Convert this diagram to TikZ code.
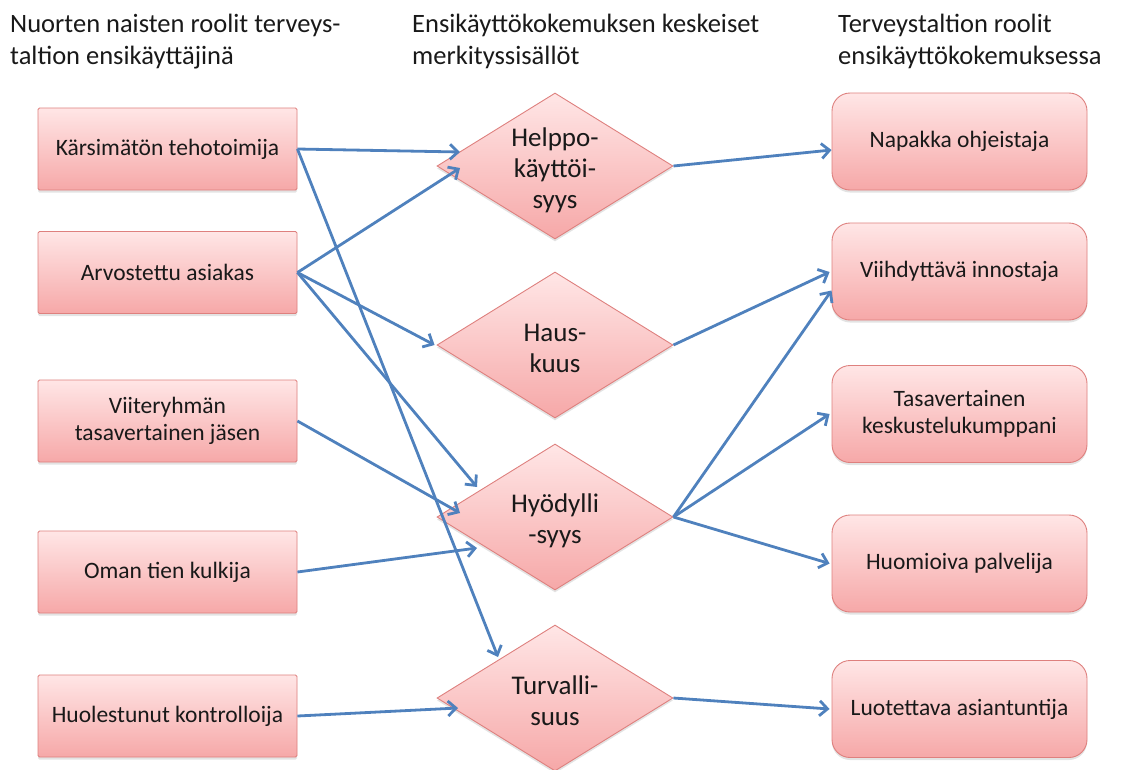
\documentclass[tikz,border=0pt]{standalone}
\usepackage{fontspec}
\setmainfont{Carlito}
\usetikzlibrary{arrows.meta,shapes.geometric,calc,shadows}

\definecolor{linkblue}{RGB}{79,129,189}
\definecolor{boxedge}{RGB}{222,128,126}
\definecolor{boxtop}{RGB}{255,230,230}
\definecolor{boxbottom}{RGB}{246,168,168}
\definecolor{inktext}{RGB}{25,25,25}

\tikzset{
  x=1pt, y=-1pt,
  shade common/.style={draw=boxedge, line width=0.9pt,
    top color=boxtop, bottom color=boxbottom,
    drop shadow={opacity=0.22, shadow xshift=0pt, shadow yshift=-2.5pt}},
  rolebox/.style={shade common, rectangle, rounded corners=1.5pt,
    minimum width=259pt, minimum height=82pt, inner sep=0pt,
    align=center, text=inktext, font=\fontsize{23.5}{27}\selectfont},
  staffbox/.style={shade common, rectangle, rounded corners=18pt,
    minimum width=255pt, minimum height=97pt, inner sep=0pt,
    align=center, text=inktext, font=\fontsize{23.5}{27}\selectfont},
  meaning/.style={shade common, diamond, inner sep=0pt,
    minimum width=236pt, minimum height=146pt},
  meaningtext/.style={align=center, text=inktext, inner sep=0pt,
    font=\fontsize{27}{31}\selectfont},
  heading/.style={anchor=base west, align=left, inner sep=0pt,
    text=inktext, font=\fontsize{26.5}{32}\selectfont},
  link/.style={draw=linkblue, line width=2.8pt,
    -{Straight Barb[length=8pt,width=15pt]}}
}

\begin{document}
\begin{tikzpicture}
\useasboundingbox (0,0) rectangle (1122,769);

% column headings (anchored on the baseline of the last line)
\node[heading] (h1) at (10,64) {Nuorten naisten roolit terveys-\\taltion ensikäyttäjinä};
\node[heading] (h2) at (412,64) {Ensikäyttökokemuksen keskeiset\\merkityssisällöt};
\node[heading] (h3) at (838,64) {Terveystaltion roolit\\ensikäyttökokemuksessa};

% roles of the young women
\node[rolebox] (l1) at (167.5,149) {Kärsimätön tehotoimija};
\node[rolebox] (l2) at (167.5,272.5) {Arvostettu asiakas};
\node[rolebox] (l3) at (167.5,421) {Viiteryhmän\\tasavertainen jäsen};
\node[rolebox] (l4) at (167.5,572) {Oman tien kulkija};
\node[rolebox] (l5) at (167.5,716) {Huolestunut kontrolloija};

% core meanings
\node[meaning] (d1) at (555,166) {};
\node[meaningtext] (t1) at ($(d1.center)+(0,4)$) {Helppo-\\käyttöi-\\syys};
\node[meaning] (d2) at (555,345) {};
\node[meaningtext] (t2) at ($(d2.center)+(0,3)$) {Haus-\\kuus};
\node[meaning] (d3) at (555,517) {};
\node[meaningtext] (t3) at ($(d3.center)+(0,4)$) {Hyödylli\\-syys};
\node[meaning] (d4) at (555,698) {};
\node[meaningtext] (t4) at ($(d4.center)+(0,3)$) {Turvalli-\\suus};

% roles of the health service
\node[staffbox] (r1) at (959.5,141.5) {Napakka ohjeistaja};
\node[staffbox] (r2) at (959.5,271.5) {Viihdyttävä innostaja};
\node[staffbox] (r3) at (959.5,414) {Tasavertainen\\keskustelukumppani};
\node[staffbox] (r4) at (959.5,563.5) {Huomioiva palvelija};
\node[staffbox] (r5) at (959.5,709) {Luotettava asiantuntija};

% links from roles to meanings
\draw[link] (l1.east) -- ($(d1.center)+(-95,-14)$);
\draw[link] (l1.east) -- ($(d4.center)+(-57,-41)$);
\draw[link] (l2.east) -- ($(d1.center)+(-95,2)$);
\draw[link] (l2.east) -- ($(d2.west)+(-2,0)$);
\draw[link] (l2.east) -- ($(d3.center)+(-78,-30)$);
\draw[link] (l3.east) -- ($(d3.center)+(-95,-4)$);
\draw[link] (l4.east) -- ($(d3.center)+(-78,31)$);
\draw[link] (l5.east) -- ($(d4.center)+(-97,10)$);

% links from meanings to service roles
\draw[link] (d1.east) -- ($(r1.west)+(0,8.5)$);
\draw[link] (d2.east) -- ($(r2.west)+(-2,0.5)$);
\draw[link] (d3.east) -- ($(r2.west)+(0,19)$);
\draw[link] (d3.east) -- ($(r3.west)+(-2,0)$);
\draw[link] (d3.east) -- ($(r4.west)+(-2,0)$);
\draw[link] (d4.east) -- ($(r5.west)+(-2,0)$);
\end{tikzpicture}
\end{document}
